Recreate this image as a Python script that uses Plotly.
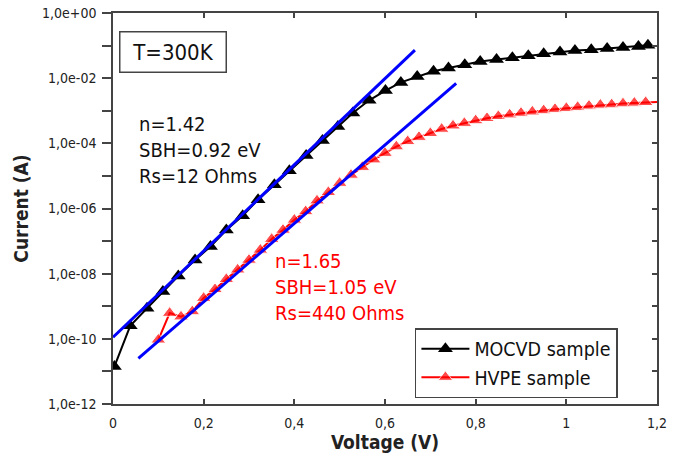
import plotly.graph_objects as go

# ---------------- data ----------------
mocvd_v = [0.003, 0.038, 0.075, 0.11, 0.144, 0.181, 0.215, 0.25, 0.286, 0.32,
           0.356, 0.389, 0.426, 0.462, 0.496, 0.529, 0.565, 0.601, 0.635, 0.671,
           0.707, 0.74, 0.776, 0.81, 0.846, 0.881, 0.916, 0.95, 0.986, 1.019,
           1.055, 1.09, 1.125, 1.159, 1.18]
mocvd_i = [1.41e-11, 2.51e-10, 8.71e-10, 2.82e-9, 8.51e-9, 2.63e-8, 6.76e-8, 2.19e-7, 6.03e-7, 1.86e-6,
           5.37e-6, 1.45e-5, 4.27e-5, 1.23e-4, 3.31e-4, 8.51e-4, 2.09e-3, 4.17e-3, 7.41e-3, 1.12e-2,
           1.62e-2, 2.04e-2, 2.57e-2, 3.24e-2, 3.72e-2, 4.27e-2, 4.90e-2, 5.62e-2, 6.31e-2, 7.08e-2,
           7.41e-2, 8.13e-2, 8.71e-2, 9.33e-2, 1.02e-1]

hvpe_v = [0.1, 0.125, 0.15, 0.175, 0.2, 0.225, 0.25, 0.275, 0.3, 0.325,
          0.35, 0.375, 0.4, 0.425, 0.45, 0.475, 0.5, 0.525, 0.55, 0.575,
          0.6, 0.625, 0.65, 0.675, 0.7, 0.725, 0.75, 0.775, 0.8, 0.825,
          0.85, 0.875, 0.9, 0.925, 0.95, 0.975, 1.0, 1.025, 1.05, 1.075,
          1.1, 1.125, 1.15, 1.175, 1.2]
hvpe_i = [9.33e-11, 6.17e-10, 4.79e-10, 6.92e-10, 1.78e-9, 3.31e-9, 6.76e-9, 1.32e-8, 2.63e-8, 5.37e-8,
          1.15e-7, 2.19e-7, 4.47e-7, 8.13e-7, 1.74e-6, 3.16e-6, 6.03e-6, 1.07e-5, 1.86e-5, 3.16e-5,
          5.01e-5, 7.94e-5, 1.15e-4, 1.55e-4, 2.04e-4, 2.75e-4, 3.47e-4, 4.17e-4, 5.01e-4, 5.89e-4,
          6.76e-4, 7.59e-4, 8.51e-4, 9.33e-4, 1.02e-3, 1.12e-3, 1.20e-3, 1.29e-3, 1.41e-3, 1.51e-3,
          1.55e-3, 1.66e-3, 1.74e-3, 1.82e-3, 1.86e-3]

fit_mocvd_v = [0.0, 0.666]
fit_mocvd_i = [1.12e-10, 7.24e-2]
fit_hvpe_v = [0.056, 0.757]
fit_hvpe_i = [2.51e-11, 6.92e-3]

x_tickvals = [0, 0.2, 0.4, 0.6, 0.8, 1.0, 1.2]
x_ticktext = ["0", "0,2", "0,4", "0,6", "0,8", "1", "1,2"]
y_tickvals = [1e0, 1e-1, 1e-2, 1e-3, 1e-4, 1e-5, 1e-6, 1e-7, 1e-8, 1e-9, 1e-10, 1e-11, 1e-12]
y_ticktext = ["1,0e+00", "", "1,0e-02", "", "1,0e-04", "", "1,0e-06", "", "1,0e-08", "",
              "1,0e-10", "", "1,0e-12"]

FONT = "DejaVu Sans Condensed, DejaVu Sans, sans-serif"
AX = "#444444"
MS = 13

fig = go.Figure()

fig.add_trace(go.Scatter(x=mocvd_v, y=mocvd_i, mode="lines+markers", name="MOCVD sample",
                         line=dict(color="black", width=2),
                         marker=dict(symbol="triangle-up", size=MS, color="black")))
hvpe_sizes = [MS] * (len(hvpe_v) - 1) + [0]
fig.add_trace(go.Scatter(x=hvpe_v, y=hvpe_i, mode="lines+markers", name="HVPE sample",
                         line=dict(color="#ff0000", width=2),
                         marker=dict(symbol="triangle-up", size=hvpe_sizes, color="#ff0000")))

fig.add_trace(go.Scatter(x=fit_mocvd_v, y=fit_mocvd_i, mode="lines",
                         line=dict(color="#0000ff", width=3), showlegend=False))
fig.add_trace(go.Scatter(x=fit_hvpe_v, y=fit_hvpe_i, mode="lines",
                         line=dict(color="#0000ff", width=3), showlegend=False))

fig.add_trace(go.Scatter(x=[None], y=[None], yaxis="y2", showlegend=False, hoverinfo="skip"))

fig.update_layout(
    width=683, height=462,
    margin=dict(l=113, r=26, t=13, b=58, autoexpand=False),
    paper_bgcolor="white", plot_bgcolor="white",
    font=dict(family=FONT, size=14, color="#222"),
    xaxis=dict(range=[0, 1.2], tickvals=x_tickvals, ticktext=x_ticktext,
               ticks="inside", ticklen=5, tickcolor=AX, tickwidth=1.5,
               showline=True, linecolor=AX, linewidth=1.5, mirror="ticks",
               showgrid=False, zeroline=False, automargin=False, ticklabelstandoff=5,
               tickfont=dict(family=FONT, size=14, color="#222"),
               title=dict(text="<b>Voltage (V)</b>", font=dict(family=FONT, size=19, color="#222"),
                          standoff=6)),
    yaxis=dict(type="log", range=[-12, 0], tickvals=y_tickvals, ticktext=y_ticktext,
               ticks="outside", ticklen=9, tickcolor=AX, tickwidth=1.5,
               showline=True, linecolor=AX, linewidth=1.5, automargin=False,
               showgrid=False, zeroline=False, ticklabelstandoff=3,
               tickfont=dict(family=FONT, size=14, color="#222"),
               title=dict(text="<b>Current (A)</b>", font=dict(family=FONT, size=19, color="#222"),
                          standoff=8)),
    yaxis2=dict(type="log", range=[-12, 0], overlaying="y", side="right",
                tickvals=y_tickvals, showticklabels=False, automargin=False,
                ticks="inside", ticklen=5, tickcolor=AX, tickwidth=1.5,
                showline=True, linecolor=AX, linewidth=1.5, showgrid=False, zeroline=False),
    legend=dict(x=0.555, y=0.194, xanchor="left", yanchor="top",
                bgcolor="white", bordercolor=AX, borderwidth=1.5,
                font=dict(family=FONT, size=19.5, color="#111"),
                itemwidth=48, entrywidth=210, tracegroupgap=0),
    showlegend=True,
)

fig.add_annotation(x=0.111, y=0.9015, xref="paper", yref="paper", text="T=300K",
                   showarrow=False, font=dict(family=FONT, size=22, color="#111"),
                   bordercolor=AX, borderwidth=1.5, borderpad=1, width=103, height=37,
                   bgcolor="white", xanchor="center", yanchor="middle")
fig.add_annotation(x=0.0441, y=0.6496, xref="paper", yref="paper",
                   text="n=1.42<br>SBH=0.92 eV<br>Rs=12 Ohms", align="left",
                   showarrow=False, font=dict(family=FONT, size=20, color="#111"),
                   xanchor="left", yanchor="middle")
fig.add_annotation(x=0.295, y=0.2992, xref="paper", yref="paper",
                   text="n=1.65<br>SBH=1.05 eV<br>Rs=440 Ohms", align="left",
                   showarrow=False, font=dict(family=FONT, size=20, color="#ff0000"),
                   xanchor="left", yanchor="middle")

fig.write_html("out.html", config={"displayModeBar": False},
               post_script="document.body.style.margin='0';document.body.style.overflow='hidden';")
